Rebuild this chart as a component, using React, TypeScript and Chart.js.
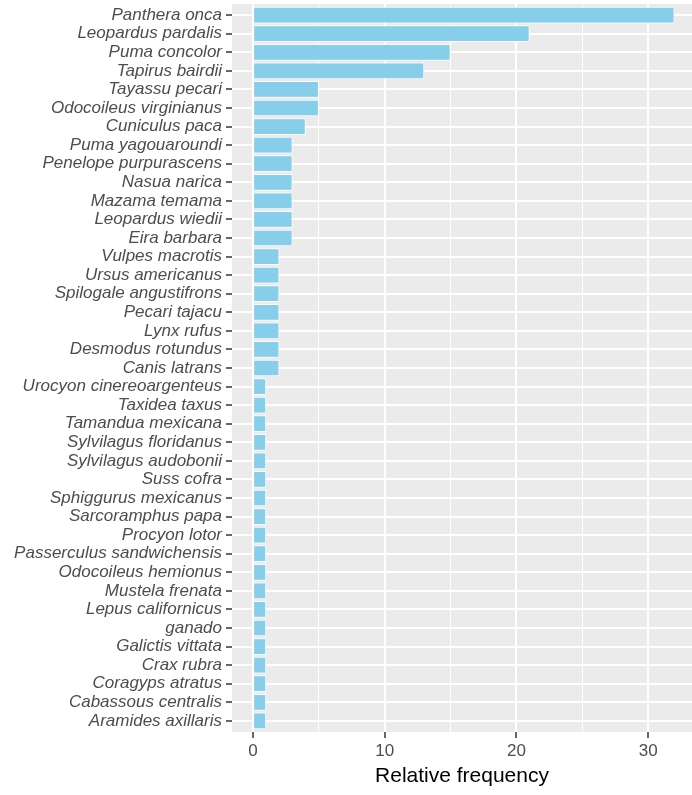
import React, { useEffect, useRef } from "react";
import { Chart, registerables } from "chart.js";
Chart.register(...registerables);

const species: string[] = [
  "Panthera onca",
  "Leopardus pardalis",
  "Puma concolor",
  "Tapirus bairdii",
  "Tayassu pecari",
  "Odocoileus virginianus",
  "Cuniculus paca",
  "Puma yagouaroundi",
  "Penelope purpurascens",
  "Nasua narica",
  "Mazama temama",
  "Leopardus wiedii",
  "Eira barbara",
  "Vulpes macrotis",
  "Ursus americanus",
  "Spilogale angustifrons",
  "Pecari tajacu",
  "Lynx rufus",
  "Desmodus rotundus",
  "Canis latrans",
  "Urocyon cinereoargenteus",
  "Taxidea taxus",
  "Tamandua mexicana",
  "Sylvilagus floridanus",
  "Sylvilagus audobonii",
  "Suss cofra",
  "Sphiggurus mexicanus",
  "Sarcoramphus papa",
  "Procyon lotor",
  "Passerculus sandwichensis",
  "Odocoileus hemionus",
  "Mustela frenata",
  "Lepus californicus",
  "ganado",
  "Galictis vittata",
  "Crax rubra",
  "Coragyps atratus",
  "Cabassous centralis",
  "Aramides axillaris",
];

const frequency: number[] = [
  32, 21, 15, 13, 5, 5, 4, 3, 3, 3, 3, 3, 3, 2, 2, 2, 2, 2, 2, 2,
  1, 1, 1, 1, 1, 1, 1, 1, 1, 1, 1, 1, 1, 1, 1, 1, 1, 1, 1,
];

const xMajorTicks: number[] = [0, 10, 20, 30];
const xMinorTicks: number[] = [5, 15, 25];

const FONT = "'Liberation Sans', Arial, Helvetica, sans-serif";

export default function App() {
  const ref = useRef<HTMLCanvasElement>(null);

  useEffect(() => {
    document.body.style.margin = "0";
    const panelBg = {
      id: "panelBg",
      beforeDraw(chart: any) {
        const { ctx, chartArea } = chart;
        ctx.save();
        ctx.fillStyle = "#EBEBEB";
        ctx.fillRect(chartArea.left, chartArea.top, chartArea.width, chartArea.height);
        ctx.restore();
      },
    };
    const allX = [...xMajorTicks, ...xMinorTicks].sort((a, b) => a - b);
    const chart = new Chart(ref.current as HTMLCanvasElement, {
      type: "bar",
      data: {
        datasets: [
          {
            data: species.map((s, i) => ({ x: frequency[i], y: i + 1 })),
            backgroundColor: "#87CEEB",
            borderColor: "#FFFFFF",
            borderWidth: 1,
            barPercentage: 0.9,
            categoryPercentage: 1,
          } as any,
        ],
      },
      options: {
        indexAxis: "y",
        animation: false,
        responsive: false,
        maintainAspectRatio: false,
        layout: { padding: { top: 4, right: 0, left: 0, bottom: 0 } },
        plugins: { legend: { display: false }, tooltip: { enabled: false } },
        scales: {
          y: {
            type: "linear",
            reverse: true,
            offset: false,
            min: 0.4,
            max: species.length + 0.6,
            afterBuildTicks: (s: any) => {
              s.ticks = species.map((_, i) => ({ value: i + 1 }));
            },
            afterFit: (s: any) => {
              s.width = 232;
              s.paddingTop = 0;
              s.paddingBottom = 0;
            },
            ticks: {
              autoSkip: false,
              padding: 4,
              color: "#4D4D4D",
              font: { family: FONT, size: 17, style: "italic" },
              callback: (v: any) => species[Math.round(Number(v)) - 1] ?? "",
            },
            grid: {
              offset: false,
              color: "#FFFFFF",
              lineWidth: 2,
              tickLength: 6,
              tickColor: "#333333",
              tickWidth: 1.5,
            },
            border: { display: false },
          },
          x: {
            type: "linear",
            min: -1.6,
            max: 33.33,
            afterBuildTicks: (s: any) => {
              s.ticks = allX.map((v) => ({ value: v }));
            },
            afterFit: (s: any) => {
              s.height = 63;
            },
            ticks: {
              autoSkip: false,
              maxRotation: 0,
              padding: 3,
              color: "#4D4D4D",
              font: { family: FONT, size: 17 },
              callback: (v: any) => (xMajorTicks.includes(Number(v)) ? String(v) : ""),
            },
            grid: {
              color: "#FFFFFF",
              lineWidth: (ctx: any) => (ctx.tick && xMajorTicks.includes(ctx.tick.value) ? 2 : 1),
              tickLength: 6,
              tickWidth: 1.5,
              tickColor: (ctx: any) =>
                ctx.tick && xMajorTicks.includes(ctx.tick.value) ? "#333333" : "rgba(0,0,0,0)",
            },
            border: { display: false },
            title: {
              display: true,
              text: "Relative frequency",
              color: "#000000",
              font: { family: FONT, size: 21 },
              padding: { top: 0, bottom: 6 },
            },
          },
        },
      } as any,
      plugins: [panelBg],
    });
    return () => chart.destroy();
  }, []);

  return (
    <div style={{ position: "absolute", left: 0, top: 0, width: 692, height: 795 }}>
      <canvas ref={ref} width={692} height={795} style={{ display: "block" }} />
    </div>
  );
}
